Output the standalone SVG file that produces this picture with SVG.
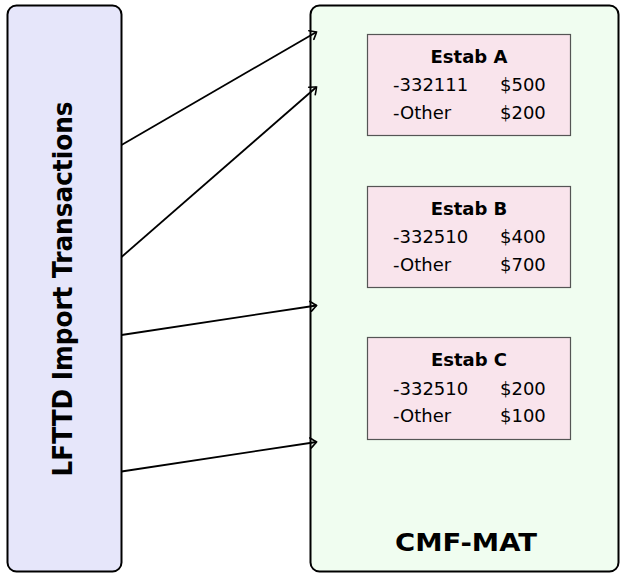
<svg xmlns="http://www.w3.org/2000/svg" width="620" height="574" viewBox="0 0 620 574">
<style>
.box{stroke:#000;stroke-width:2}
.estab{fill:#f9e4ec;stroke:#555;stroke-width:1.2}
.t{font-family:"DejaVu Sans","Liberation Sans",sans-serif;fill:#000}
.b{font-weight:bold}
.row{font-size:18px}
.conn{stroke:#000;stroke-width:1.8;fill:none;marker-end:url(#to)}
</style>
<defs>
<marker id="to" markerUnits="userSpaceOnUse" viewBox="-8 -6 10 12" refX="0" refY="0" markerWidth="10" markerHeight="12" orient="auto">
<path d="M-6,-5 Q-1.5,-1.5 0,0 Q-1.5,1.5 -6,5" fill="none" stroke="#000" stroke-width="1.6" stroke-linecap="round"/>
</marker>
</defs>
<g id="lfttd">
<rect class="box" x="7.5" y="5.5" width="114" height="566" rx="9" fill="#e6e6fa"/>
<text class="t b" font-size="26" text-anchor="middle" transform="translate(72,289) rotate(-90)" textLength="375" lengthAdjust="spacingAndGlyphs">LFTTD Import Transactions</text>
</g>
<g id="cmfmat">
<rect class="box" x="310.5" y="5.5" width="308" height="566" rx="9" fill="#f0fdf0"/>
<text class="t b" font-size="25" x="466" y="551" text-anchor="middle" textLength="142" lengthAdjust="spacingAndGlyphs">CMF-MAT</text>
</g>
<g id="estabA">
<rect class="estab" x="367.5" y="34.5" width="203" height="101"/>
<text class="t b" font-size="18" x="469" y="63" text-anchor="middle">Estab A</text>
<text class="t row" x="393" y="91">-332111</text>
<text class="t row" x="500" y="91">$500</text>
<text class="t row" x="393" y="118.5">-Other</text>
<text class="t row" x="500" y="118.5">$200</text>
</g>
<g id="estabB">
<rect class="estab" x="367.5" y="186.5" width="203" height="101"/>
<text class="t b" font-size="18" x="469" y="215" text-anchor="middle">Estab B</text>
<text class="t row" x="393" y="243">-332510</text>
<text class="t row" x="500" y="243">$400</text>
<text class="t row" x="393" y="270.5">-Other</text>
<text class="t row" x="500" y="270.5">$700</text>
</g>
<g id="estabC">
<rect class="estab" x="367.5" y="337.5" width="203" height="102"/>
<text class="t b" font-size="18" x="469" y="366" text-anchor="middle">Estab C</text>
<text class="t row" x="393" y="395">-332510</text>
<text class="t row" x="500" y="395">$200</text>
<text class="t row" x="393" y="422">-Other</text>
<text class="t row" x="500" y="422">$100</text>
</g>
<g id="connectors">
<line class="conn" x1="121.5" y1="145" x2="316.5" y2="32"/>
<line class="conn" x1="121.5" y1="257" x2="316.5" y2="87"/>
<line class="conn" x1="121.5" y1="335" x2="316.5" y2="305.5"/>
<line class="conn" x1="121.5" y1="471.5" x2="316.5" y2="442"/>
</g>
</svg>
